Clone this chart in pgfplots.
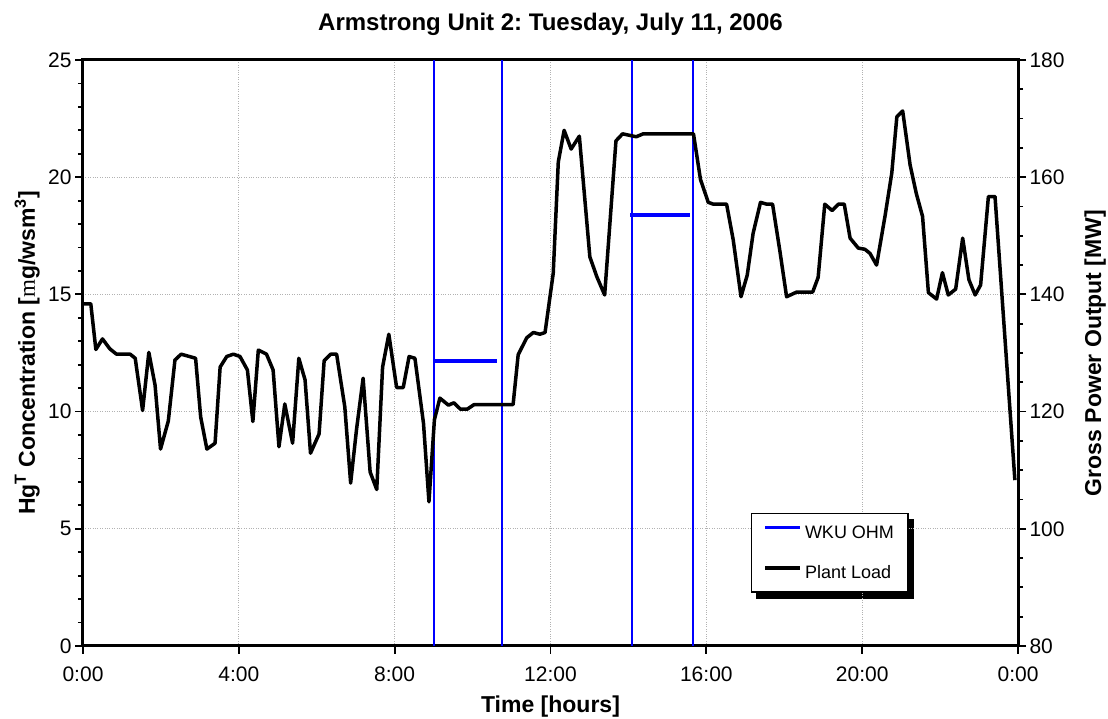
\documentclass[border=0pt]{standalone}
\usepackage{fontspec}
\setmainfont{Liberation Sans}
\newfontfamily\serifm{Liberation Serif}
\usepackage{pgfplots}
\pgfplotsset{compat=1.18}
\usetikzlibrary{backgrounds}
\frenchspacing

\pgfplotstableread{
t mw
0.00 138.4
0.20 138.4
0.33 130.6
0.50 132.4
0.69 130.7
0.86 129.8
1.21 129.8
1.34 129.1
1.53 120.2
1.69 130.1
1.85 124.5
1.99 113.6
2.19 118.4
2.36 128.8
2.52 129.8
2.89 129.1
3.02 119.1
3.18 113.6
3.39 114.6
3.52 127.6
3.69 129.4
3.86 129.8
4.03 129.4
4.22 127.1
4.36 118.3
4.50 130.5
4.71 129.8
4.88 127.1
5.03 114.0
5.18 121.3
5.38 114.6
5.54 129.1
5.70 125.4
5.84 112.9
6.06 116.2
6.19 128.7
6.36 129.8
6.51 129.8
6.72 120.8
6.87 107.8
7.02 116.9
7.19 125.7
7.37 109.7
7.54 106.7
7.69 127.6
7.85 133.2
8.05 124.1
8.22 124.1
8.37 129.4
8.52 129.1
8.74 118.0
8.88 104.6
9.02 118.6
9.16 122.3
9.38 121.1
9.52 121.5
9.69 120.4
9.86 120.4
10.04 121.2
11.04 121.2
11.17 129.7
11.39 132.6
11.56 133.5
11.73 133.2
11.86 133.5
12.07 143.6
12.20 162.6
12.35 168.0
12.53 164.8
12.74 167.0
13.01 146.4
13.19 143.0
13.39 139.9
13.68 166.2
13.85 167.4
14.20 166.9
14.38 167.4
15.67 167.4
15.85 159.6
16.05 155.7
16.18 155.4
16.52 155.4
16.69 149.3
16.89 139.6
17.05 143.3
17.20 150.4
17.39 155.7
17.55 155.4
17.70 155.4
17.89 147.3
18.06 139.6
18.32 140.4
18.73 140.4
18.87 142.9
19.04 155.4
19.23 154.3
19.39 155.4
19.54 155.4
19.69 149.6
19.90 147.9
20.07 147.7
20.20 147.0
20.37 145.0
20.59 153.5
20.76 160.7
20.89 170.3
21.04 171.3
21.23 162.1
21.39 157.2
21.55 153.3
21.70 140.3
21.91 139.2
22.06 143.7
22.21 139.9
22.40 140.9
22.58 149.6
22.74 142.5
22.90 139.9
23.04 141.6
23.24 156.7
23.41 156.7
23.92 108.3
}\loadtable

\begin{document}
\begin{tikzpicture}
\begin{axis}[
  name=main,
  scale only axis, width=935pt, height=586pt,
  xmin=0, xmax=24, ymin=0, ymax=25,
  xtick={0,4,8,12,16,20,24},
  xticklabels={0:00,4:00,8:00,12:00,16:00,20:00,0:00},
  ytick={0,5,10,15,20,25}, minor y tick num=4,
  xtick pos=bottom, ytick pos=left,
  tick align=outside,
  major tick length=8pt, minor tick length=5pt,
  tick style={black, line width=1.8pt},
  grid=major, grid style={draw=gray!60, dotted, line width=1pt},
  axis line style={line width=3pt},
  ticklabel style={font=\fontsize{21}{24}\selectfont},
  xticklabel style={yshift=-9pt},
  /pgf/number format/assume math mode=true,
]
\addplot[draw=blue, line width=2pt] coordinates {(9.0,0) (9.0,25)};
\addplot[draw=blue, line width=2pt] coordinates {(10.76,0) (10.76,25)};
\addplot[draw=blue, line width=2pt] coordinates {(14.08,0) (14.08,25)};
\addplot[draw=blue, line width=2pt] coordinates {(15.65,0) (15.65,25)};
\addplot[draw=blue, line width=4pt] coordinates {(9.0,12.17) (10.63,12.17)};
\addplot[draw=blue, line width=4pt] coordinates {(14.05,18.39) (15.58,18.39)};
\end{axis}
\begin{axis}[
  scale only axis, width=935pt, height=586pt,
  xmin=0, xmax=24, ymin=80, ymax=180,
  hide x axis,
  axis y line*=right,
  ytick={80,100,120,140,160,180}, minor y tick num=3,
  ytick pos=right,
  tick align=outside,
  major tick length=8pt, minor tick length=5pt,
  tick style={black, line width=1.8pt},
  axis line style={line width=3pt},
  ticklabel style={font=\fontsize{21}{24}\selectfont},
  /pgf/number format/assume math mode=true,
  legend style={at={(rel axis cs:0.714,0.2275)}, anchor=north west,
    name=leg,
    draw=black, line width=1.8pt, fill=white,
    font=\fontsize{18}{21}\selectfont,
    inner xsep=12pt, inner ysep=10pt,
    row sep=22pt, column sep=1pt,
    cells={anchor=west},
    nodes={inner sep=2pt}},
  legend image code/.code={\draw[#1, line width=3.5pt] (0pt,0.5em) -- (35pt,0.5em);},
]
\addlegendimage{blue}
\addlegendentry{WKU OHM}
\addplot[black, line width=3.5pt, line join=round] table[x=t, y=mw] {\loadtable};
\addlegendentry{Plant Load}
\end{axis}

\begin{pgfonlayer}{background}
\fill[black] ([xshift=5pt,yshift=-6pt]leg.south west) rectangle ([xshift=5pt,yshift=-6pt]leg.north east);
\end{pgfonlayer}

\node[anchor=base, font=\fontsize{24}{28}\selectfont\bfseries]
  at ([yshift=29pt]main.north) {Armstrong Unit 2: Tuesday, July 11, 2006};
\node[anchor=base, font=\fontsize{23}{27}\selectfont\bfseries]
  at ([yshift=-67pt]main.south) {Time [hours]};
\node[anchor=base, rotate=90, font=\fontsize{23}{27}\selectfont\bfseries]
  at ([xshift=-48pt]main.west) {Hg\textsuperscript{T} Concentration [{\serifm\mdseries m}g/wsm\textsuperscript{3}]};
\node[anchor=base, rotate=90, font=\fontsize{23}{27}\selectfont\bfseries]
  at ([xshift=83pt]main.east) {Gross Power Output [MW]};

\pgfresetboundingbox
\path ([xshift=-83pt,yshift=-73pt]main.south west) rectangle ([xshift=90pt,yshift=60pt]main.north east);
\end{tikzpicture}
\end{document}
